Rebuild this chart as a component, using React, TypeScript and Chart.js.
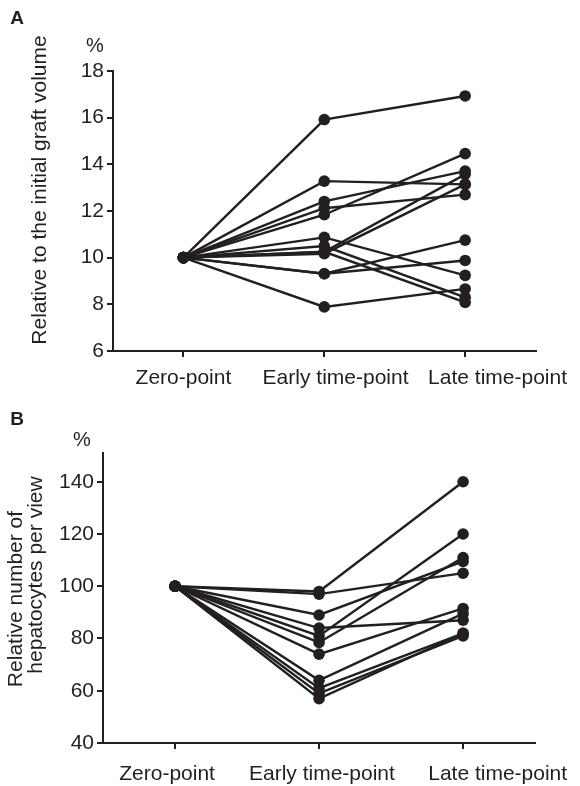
import React, { useEffect, useRef } from 'react';
import { Chart, registerables } from 'chart.js';

Chart.register(...registerables);

// ---------- data ----------
const timePoints = ['Zero-point', 'Early time-point', 'Late time-point'];

// Panel A: relative to the initial graft volume (%), one entry per graft
const volumeZero = [10, 10, 10, 10, 10, 10, 10, 10, 10, 10, 10, 10, 10];
const volumeEarly = [15.92, 13.28, 12.41, 12.12, 11.84, 10.25, 10.17, 10.87, 10.5, 10.25, 9.31, 9.31, 7.89];
const volumeLate = [16.93, 13.14, 13.71, 12.7, 14.46, 13.57, 13.14, 9.24, 8.3, 8.08, 10.75, 9.88, 8.66];
const volumeTicks = [6, 8, 10, 12, 14, 16, 18];

// Panel B: relative number of hepatocytes per view (%)
const hepZero = [100, 100, 100, 100, 100, 100, 100, 100, 100, 100, 100];
const hepEarly = [98, 97, 81, 89, 78.5, 84, 74, 64, 61, 59, 57];
const hepLate = [140, 105, 120, 109.5, 111, 87, 91.5, 89.5, 82, 81, 82];
const hepTicks = [40, 60, 80, 100, 120, 140];

// ---------- style ----------
const INK = '#231f20';
const FONT = '"Liberation Sans", Arial, Helvetica, sans-serif';

type PanelCfg = {
  zero: number[];
  early: number[];
  late: number[];
  yMin: number;
  yMax: number;
  yTicks: number[];
  yWidth: number;
  padTop: number;
  padBottom: number;
  labelPos: number[];
  labelLineHeight: number;
  letter: string;
  letterPos: [number, number];
  pctPos: [number, number];
  title: string[];
  titleShift: number[];
  titleX: number;
  titleY: number;
  titleLine: number;
  height: number;
};

function buildChart(canvas: HTMLCanvasElement, cfg: PanelCfg) {
  const datasets = cfg.early.map((e, i) => ({
    data: [
      { x: 0, y: cfg.zero[i] },
      { x: 1, y: e },
      { x: 2, y: cfg.late[i] },
    ],
    borderColor: INK,
    backgroundColor: INK,
    pointBackgroundColor: INK,
    pointBorderColor: INK,
    borderWidth: 2.4,
    pointRadius: 5.8,
    pointBorderWidth: 0,
    tension: 0,
    clip: false as any,
  }));

  const annot = {
    id: 'annot',
    afterDraw(chart: any) {
      const ctx = chart.ctx as CanvasRenderingContext2D;
      ctx.save();
      ctx.fillStyle = INK;
      ctx.textBaseline = 'middle';
      ctx.textAlign = 'center';
      ctx.font = `bold 19px ${FONT}`;
      ctx.fillText(cfg.letter, cfg.letterPos[0], cfg.letterPos[1]);
      ctx.font = `20px ${FONT}`;
      ctx.fillText('%', cfg.pctPos[0], cfg.pctPos[1]);
      ctx.font = `21px ${FONT}`;
      ctx.translate(cfg.titleX, cfg.titleY);
      ctx.rotate(-Math.PI / 2);
      cfg.title.forEach((line, i) => ctx.fillText(line, cfg.titleShift[i] || 0, i * cfg.titleLine));
      ctx.restore();
    },
  };

  return new Chart(canvas, {
    type: 'line',
    data: { datasets: datasets as any },
    plugins: [annot],
    options: {
      responsive: false,
      maintainAspectRatio: false,
      animation: false,
      events: [],
      layout: { padding: { top: cfg.padTop, right: 42, bottom: cfg.padBottom, left: 0 } },
      plugins: { legend: { display: false }, tooltip: { enabled: false }, title: { display: false } },
      scales: {
        x: {
          type: 'linear',
          position: 'bottom',
          min: -0.5,
          max: 2.5,
          afterBuildTicks: (a: any) => {
            a.ticks = timePoints.map((_, i) => ({ value: i }));
          },
          afterFit: (a: any) => {
            a.height = 6;
          },
          grid: { display: true, drawOnChartArea: false, drawTicks: true, tickLength: 6, color: INK, lineWidth: 2 },
          border: { display: true, color: INK, width: 2 },
          ticks: { display: false },
        },
        x2: {
          type: 'linear',
          position: 'bottom',
          min: -0.5,
          max: 2.5,
          afterBuildTicks: (a: any) => {
            a.ticks = cfg.labelPos.map((v) => ({ value: v }));
          },
          afterFit: (a: any) => {
            a.height = 36;
          },
          grid: { display: false, drawTicks: false },
          border: { display: false },
          ticks: {
            padding: 9,
            color: INK,
            font: { family: FONT, size: 21, lineHeight: cfg.labelLineHeight },
            maxRotation: 0,
            autoSkip: false,
            callback: (_v: any, i: number) => timePoints[i],
          },
        },
        y: {
          type: 'linear',
          min: cfg.yMin,
          max: cfg.yMax,
          afterBuildTicks: (a: any) => {
            a.ticks = cfg.yTicks.map((v) => ({ value: v }));
          },
          afterFit: (a: any) => {
            a.width = cfg.yWidth;
          },
          grid: { display: true, drawOnChartArea: false, drawTicks: true, tickLength: 6, color: INK, lineWidth: 2 },
          border: { display: true, color: INK, width: 2 },
          ticks: { padding: 3, color: INK, font: { family: FONT, size: 21 } },
        },
      },
    } as any,
  });
}

const panelA: PanelCfg = {
  zero: volumeZero,
  early: volumeEarly,
  late: volumeLate,
  yMin: 6,
  yMax: 18,
  yTicks: volumeTicks,
  yWidth: 113,
  padTop: 71,
  padBottom: 2,
  labelPos: [0, 1.08, 2.23],
  labelLineHeight: 1.2,
  letter: 'A',
  letterPos: [17, 19],
  pctPos: [95, 46],
  title: ['Relative to the initial graft volume'],
  titleShift: [0],
  titleX: 40,
  titleY: 190,
  titleLine: 22,
  height: 395,
};

const panelB: PanelCfg = {
  zero: hepZero,
  early: hepEarly,
  late: hepLate,
  yMin: 40,
  yMax: 151,
  yTicks: hepTicks,
  yWidth: 103,
  padTop: 58,
  padBottom: 1,
  labelPos: [-0.055, 1.02, 2.24],
  labelLineHeight: 1.58,
  letter: 'B',
  letterPos: [17, 25],
  pctPos: [82, 45],
  title: ['Relative number of', 'hepatocytes per view'],
  titleShift: [0, 24],
  titleX: 16,
  titleY: 204,
  titleLine: 20,
  height: 391,
};

function Panel({ cfg, top }: { cfg: PanelCfg; top: number }) {
  const ref = useRef<HTMLCanvasElement | null>(null);
  useEffect(() => {
    if (!ref.current) return;
    const chart = buildChart(ref.current, cfg);
    return () => chart.destroy();
  }, [cfg]);
  return (
    <div style={{ position: 'absolute', left: 0, top, width: 580, height: cfg.height }}>
      <canvas ref={ref} width={580} height={cfg.height} style={{ width: 580, height: cfg.height, display: 'block' }} />
    </div>
  );
}

export default function App() {
  return (
    <div style={{ position: 'absolute', left: 0, top: 0, width: 580, height: 786, background: '#fff' }}>
      <Panel cfg={panelA} top={0} />
      <Panel cfg={panelB} top={395} />
    </div>
  );
}
